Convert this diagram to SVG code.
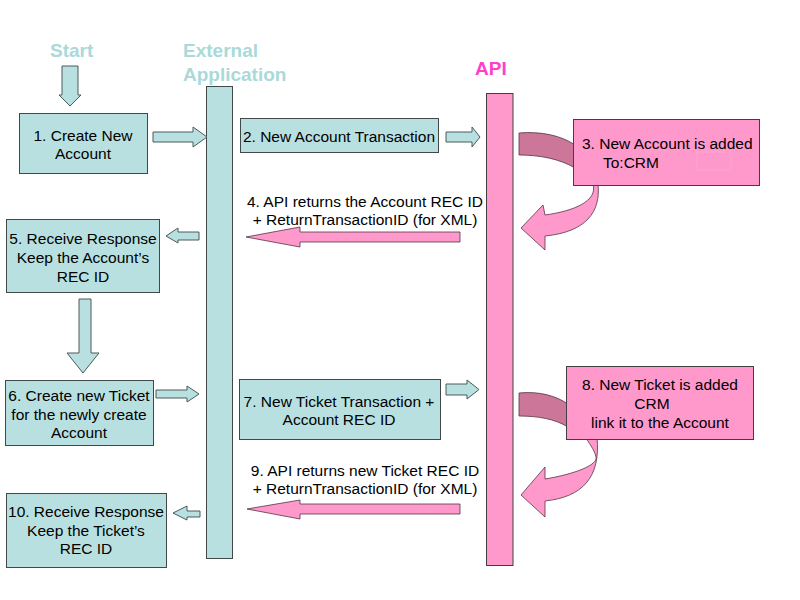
<svg xmlns="http://www.w3.org/2000/svg" width="800" height="600" viewBox="0 0 800 600">
<style>
text{font-family:"Liberation Sans",Arial,sans-serif;font-size:15.5px;fill:#000;text-anchor:middle}
.title{font-size:19px;font-weight:bold;text-anchor:start}
.cy{fill:#b9e0e0;stroke:#404848;stroke-width:1}
.pk{fill:#ff99cc;stroke:#404040;stroke-width:1}
.dk{fill:#cc7799;stroke:#553344;stroke-width:0.8}
.ca{fill:#b9e0e0;stroke:#4a5a5a;stroke-width:1}
.pa{fill:#ff99cc;stroke:#553344;stroke-width:0.8}
</style>
<rect width="800" height="600" fill="#fff"/>

<g id="start">
<text class="title" x="50" y="57" style="fill:#aad9d9">Start</text>
</g>
<g id="external-application">
<text class="title" x="183" y="57" style="fill:#aad9d9">External</text>
<text class="title" x="183" y="81" style="fill:#aad9d9">Application</text>
<rect class="cy" x="206.5" y="86.5" width="26" height="472"/>
</g>
<g id="api">
<text class="title" x="475" y="75" style="fill:#ff3ecb">API</text>
<rect class="pk" x="486.5" y="93.5" width="26.5" height="472"/>
</g>

<g id="connectors">
<path class="ca" d="M62,66 H78 V95 H81 L70,106 L59,95 H62 Z"/>
<path class="ca" d="M153,132 H193 V127 L207,137 L193,147 V142 H153 Z"/>
<path class="ca" d="M446,132 H472 V127 L480,137 L472,147 V142 H446 Z"/>
<path class="dk" d="M519,133 C542,131 562,136 575,145 L575,168 C560,159 540,155 519,155 Z"/>
<path class="pa" d="M593,184 L598,184 C601,212 586,232 545,236 L545,250 L521,228 L543,205 L545,215 C574,211 598,201 593,184 Z"/>
<path class="pa" d="M460,232 H300 V227 L246,237 L300,247 V242 H460 Z"/>
<path class="ca" d="M199,232 H178 V228 L166,236 L178,243 V240 H199 Z"/>
<path class="ca" d="M79,299 H91 V353 H99 L83,373 L67,353 H79 Z"/>
<path class="ca" d="M156,390 H187 V386 L199,394 L187,402 V398 H156 Z"/>
<path class="ca" d="M446,384 H467 V380 L479,389.5 L467,399 V395 H446 Z"/>
<path class="dk" d="M519,393 C540,391 556,396 568,404 L568,427 C555,419 538,416 519,416 Z"/>
<path class="pa" d="M586,437 L597,437 C601,478 582,497 545,501 L545,517 L521,495 L545,467 L545,479 C575,474 598,465 596,457 C594,448 588,443 586,437 Z"/>
<path class="pa" d="M460,504 H300 V500 L247,509 L300,519 V514 H460 Z"/>
<path class="ca" d="M200,511 H187 V506 L173,513 L187,520 V517 H200 Z"/>
</g>

<g id="n1">
<rect class="cy" x="19.5" y="113.5" width="128" height="60"/>
<text x="83" y="140.5">1. Create New</text>
<text x="83" y="158.5">Account</text>
</g>
<g id="n2">
<rect class="cy" x="240.5" y="118.5" width="198" height="34"/>
<text x="339" y="142">2. New Account Transaction</text>
</g>
<g id="n3">
<rect class="pk" x="573.5" y="119.5" width="186" height="66"/>
<rect x="697" y="152" width="34" height="18" fill="none" stroke="#ffb0d8" stroke-width="0.6"/>
<text x="582" y="149" style="text-anchor:start">3. New Account is added</text>
<text x="603" y="168" style="text-anchor:start">To:CRM</text>
</g>
<g id="n4">
<text x="365" y="206.5">4. API returns the Account REC ID</text>
<text x="365" y="224.5">+ ReturnTransactionID (for XML)</text>
</g>
<g id="n5">
<rect class="cy" x="6.5" y="219.5" width="153" height="73"/>
<text x="83" y="244">5. Receive Response</text>
<text x="83" y="263">Keep the Account’s</text>
<text x="83" y="282">REC ID</text>
</g>
<g id="n6">
<rect class="cy" x="5.5" y="380.5" width="148" height="65"/>
<text x="79" y="401">6. Create new Ticket</text>
<text x="79" y="420">for the newly create</text>
<text x="79" y="438">Account</text>
</g>
<g id="n7">
<rect class="cy" x="239.5" y="379.5" width="201" height="60"/>
<text x="339" y="407">7. New Ticket Transaction +</text>
<text x="339" y="425">Account REC ID</text>
</g>
<g id="n8">
<rect class="pk" x="566.5" y="366.5" width="187" height="73"/>
<text x="660" y="390">8. New Ticket is added</text>
<text x="652" y="409">CRM</text>
<text x="660" y="428">link it to the Account</text>
</g>
<g id="n9">
<text x="365" y="476">9. API returns new Ticket REC ID</text>
<text x="365" y="494">+ ReturnTransactionID (for XML)</text>
</g>
<g id="n10">
<rect class="cy" x="6.5" y="493.5" width="160" height="74"/>
<text x="86" y="517">10. Receive Response</text>
<text x="86" y="536">Keep the Ticket’s</text>
<text x="86" y="554">REC ID</text>
</g>
</svg>
